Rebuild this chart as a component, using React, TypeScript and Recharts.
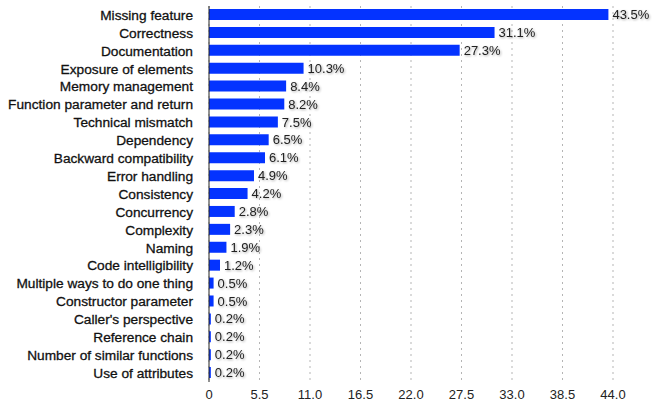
import React from 'react';
import { BarChart, Bar, XAxis, YAxis, CartesianGrid, LabelList } from 'recharts';

const categories = [
  'Missing feature',
  'Correctness',
  'Documentation',
  'Exposure of elements',
  'Memory management',
  'Function parameter and return',
  'Technical mismatch',
  'Dependency',
  'Backward compatibility',
  'Error handling ',
  'Consistency',
  'Concurrency',
  'Complexity',
  'Naming',
  'Code intelligibility',
  'Multiple ways to do one thing',
  'Constructor parameter',
  "Caller's perspective",
  'Reference chain',
  'Number of similar functions',
  'Use of attributes',
];

const shares = [43.5, 31.1, 27.3, 10.3, 8.4, 8.2, 7.5, 6.5, 6.1, 4.9, 4.2, 2.8, 2.3, 1.9, 1.2, 0.5, 0.5, 0.2, 0.2, 0.2, 0.2];

const xTicks = [0, 5.5, 11, 16.5, 22, 27.5, 33, 38.5, 44];

const data = categories.map((name, i) => ({ name, value: shares[i] }));

const font = '"Liberation Sans", Arial, Helvetica, sans-serif';

export default function App() {
  return (
    <div style={{ position: 'absolute', left: 0, top: 0, fontFamily: font }}>
      <BarChart
        width={652}
        height={405}
        data={data}
        layout="vertical"
        margin={{ top: 6, right: 39, bottom: 0, left: 0 }}
      >
        <CartesianGrid horizontal={false} stroke="#b5b5b5" strokeDasharray="2 4" />
        <XAxis
          type="number"
          domain={[0, 44]}
          ticks={xTicks}
          tickFormatter={(v: number) => (v === 0 ? '0' : v.toFixed(1))}
          axisLine={false}
          tickLine={false}
          height={23}
          tick={{ fill: '#222', fontSize: 13, fontFamily: font }}
        />
        <YAxis
          type="category"
          dataKey="name"
          width={209}
          interval={0}
          tickLine={false}
          tickSize={0}
          tickMargin={16}
          axisLine={{ stroke: '#222' }}
          tick={{ fill: '#111', fontSize: 13.7, fontFamily: font, stroke: '#111', strokeWidth: 0.3 }}
        />
        <Bar dataKey="value" fill="#0433FF" barSize={11} isAnimationActive={false}>
          <LabelList
            dataKey="value"
            position="right"
            offset={4}
            formatter={(v: number) => `${v}%`}
            style={{
              fill: '#222',
              fontSize: 13,
              fontFamily: font,
              filter: 'drop-shadow(1px 1px 1px rgba(0,0,0,0.35))',
            }}
          />
        </Bar>
      </BarChart>
    </div>
  );
}
